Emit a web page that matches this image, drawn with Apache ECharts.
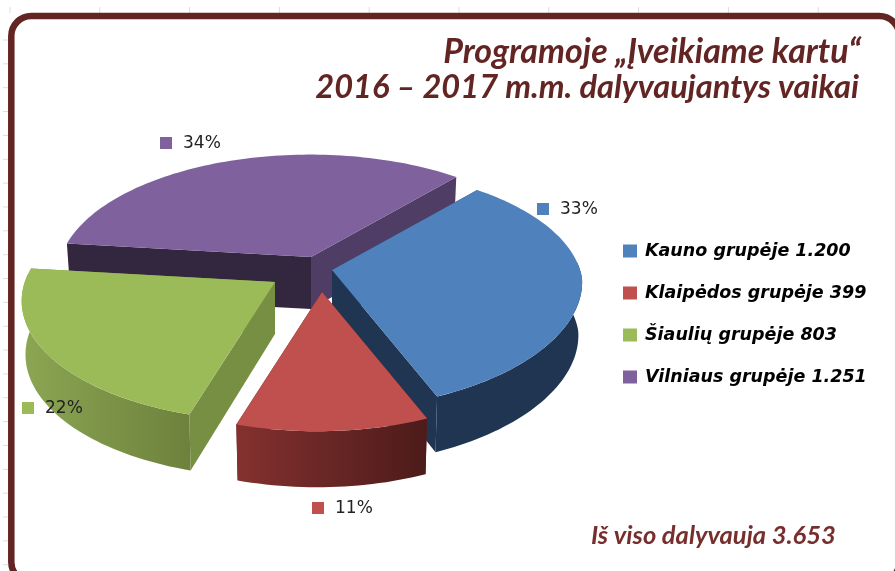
<!DOCTYPE html>
<html><head><meta charset="utf-8">
<style>html,body{margin:0;padding:0;background:#fff}#c{width:895px;height:571px}</style>
<script src="https://cdn.jsdelivr.net/npm/echarts@6/dist/echarts.min.js"></script>
</head><body><div id="c"></div>
<script>
const groups = ['Kauno grupėje', 'Klaipėdos grupėje', 'Šiaulių grupėje', 'Vilniaus grupėje'];
const counts = [1200, 399, 803, 1251];
const countLabels = ['1.200', '399', '803', '1.251'];
const titleLines = ['Programoje „Įveikiame kartu“', '2016 – 2017 m.m. dalyvaujantys vaikai'];
const totalLabel = 'Iš viso dalyvauja 3.653';

const topColors = ['#4f81bd', '#c0504d', '#9bbb59', '#7f619d'];
const rimFrom = ['#1f3552', '#84312f', '#8ca653', '#33263f'];
const rimTo = ['#1f3552', '#4c1b1a', '#6d813c', '#33263f'];
const cutStart = ['#1f3552', '#5c2322', '#778f42', '#33263f'];
const cutEnd = ['#1f3552', '#5c2322', '#778f42', '#503d66'];
const drawOrder = [2, 4, 3, 1];
const explode = [[16, -4], [6, 18], [-41, 8], [-5, -17]];
const labelPos = [[543, 209], [318, 508], [28, 408], [166, 143]];

const total = counts.reduce((a, b) => a + b, 0);
const centre = [316, 274], startDeg = -54, RX = 250, RX_LEFT = 247, B = 117.7, K = 0.1535;

function project(i, deg, drop) {
  const t = deg * Math.PI / 180, u = Math.cos(t), v = Math.sin(t), w = 1 - K * v;
  const warp = 12 * Math.max(0, u) * Math.max(0, v);
  const dx = ((u < 0 ? RX_LEFT : RX) * u / w - 18 * v - warp) * (drop ? 0.985 : 1);
  const dy = B * v / w + 8 * u + (drop ? 53 + 3 * v : 0);
  return [centre[0] + explode[i][0] + dx, centre[1] + explode[i][1] + dy];
}
function apex(i, drop) {
  return [centre[0] + explode[i][0], centre[1] + explode[i][1] + (drop ? 52 : 0)];
}
function arc(i, a, b, drop) {
  const n = Math.max(8, Math.ceil(Math.abs(b - a) / 1.5)), pts = [];
  for (let k = 0; k <= n; k++) pts.push(project(i, a + (b - a) * k / n, drop));
  return pts;
}
function renderSlice(i) {
  return function () {
    const before = counts.slice(0, i).reduce((a, b) => a + b, 0);
    const a = startDeg + before / total * 360;
    const b = a + counts[i] / total * 360;
    const z = drawOrder[i] * 10;
    const poly = (points, fill, dz) => ({
      type: 'polygon', z2: z + dz, shape: { points }, style: { fill }
    });
    const grad = new echarts.graphic.LinearGradient(0, 0, 1, 0, [
      { offset: 0, color: rimFrom[i] }, { offset: 1, color: rimTo[i] }
    ]);
    const top = arc(i, a, b, false), low = arc(i, a, b, true);
    const rimA = Math.max(a, -8), rimB = Math.min(b, 180);
    const pct = Math.round(counts[i] / total * 100) + '%';
    const children = [
      poly([apex(i, false), top[0], low[0], apex(i, true)], cutStart[i], 1),
      poly([apex(i, false), top[top.length - 1], low[low.length - 1], apex(i, true)], cutEnd[i], 2),
      poly([apex(i, false)].concat(top), topColors[i], 4),
      { type: 'rect', z2: 100, shape: { x: labelPos[i][0] - 6, y: labelPos[i][1] - 6, width: 12, height: 12 }, style: { fill: topColors[i] } },
      { type: 'text', z2: 100, style: { x: labelPos[i][0] + 17, y: labelPos[i][1] + 1, text: pct, fill: '#222', font: '17px "DejaVu Sans"', verticalAlign: 'middle' } }
    ];
    if (rimB > rimA) {
      children.push(poly(arc(i, rimA, rimB, false).concat(arc(i, rimA, rimB, true).reverse()), grad, 3));
    }
    return { type: 'group', children };
  };
}
const frameColor = '#632523';
const decor = [];
for (let x = 10; x < 895; x += 89.8) decor.push({ type: 'line', shape: { x1: x, y1: 7, x2: x, y2: 13 }, style: { stroke: '#dcdcdc', lineWidth: 1 }, z: 0 });
for (let y = 40; y < 571; y += 23.85) decor.push({ type: 'line', shape: { x1: 3, y1: y, x2: 8, y2: y }, style: { stroke: '#dcdcdc', lineWidth: 1 }, z: 0 });
decor.push({ type: 'rect', shape: { x: 11.3, y: 16, width: 888, height: 566, r: 20 }, style: { fill: '#fff', stroke: frameColor, lineWidth: 6.5 }, z: 0 });

const titleFont = { fontFamily: 'Lato', fontWeight: 'bold', fontStyle: 'italic', color: frameColor };
const chart = echarts.init(document.getElementById('c'), null, { renderer: 'canvas' });
chart.setOption({
  animation: false,
  backgroundColor: '#fff',
  graphic: decor,
  title: [
    { text: titleLines[0], right: 29, top: 30, textStyle: Object.assign({ fontSize: 34 }, titleFont) },
    { text: titleLines[1], right: 31, top: 66, textStyle: Object.assign({ fontSize: 32.6 }, titleFont) },
    { text: totalLabel, left: 586, top: 518,
      textStyle: { fontFamily: 'Lato', fontWeight: 'bold', fontStyle: 'italic', fontSize: 25.5, color: '#772f2e' } }
  ],
  legend: {
    orient: 'vertical', left: 618, top: 237, itemWidth: 14, itemHeight: 13, itemGap: 24,
    icon: 'rect', selectedMode: false,
    textStyle: { fontFamily: '"DejaVu Sans"', fontWeight: 'bold', fontStyle: 'italic', fontSize: 17.5, color: '#000', padding: [0, 0, 0, 3] },
    data: groups.map((g, i) => g + ' ' + countLabels[i])
  },
  series: groups.map((g, i) => ({
    type: 'custom', name: g + ' ' + countLabels[i], coordinateSystem: 'none', silent: true,
    itemStyle: { color: topColors[i] }, data: [[counts[i]]], renderItem: renderSlice(i)
  }))
});
</script></body></html>
